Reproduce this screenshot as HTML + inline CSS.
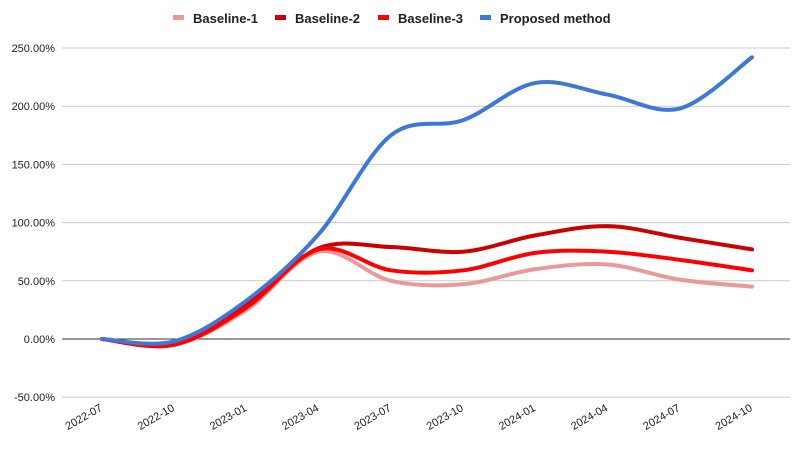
<!DOCTYPE html>
<html><head><meta charset="utf-8"><style>
body{margin:0;background:#fff;font-family:"Liberation Sans",Arial,sans-serif}
svg{display:block}
</style></head><body>
<svg id="chart" width="795" height="456" xmlns="http://www.w3.org/2000/svg"></svg>
<script>
const categories=["2022-07","2022-10","2023-01","2023-04","2023-07","2023-10","2024-01","2024-04","2024-07","2024-10"];
const seriesNames=["Baseline-1","Baseline-2","Baseline-3","Proposed method"];
const baseline1=[0,-5,25,75,50,47,60,64,51,45];
const baseline2=[0,-4,30,78,79,75,89,97,87,77];
const baseline3=[0,-5,27,77,59,59,74,75,68,59];
const proposed=[0,-2,33,90,175,188,220,210,198,242];
const yTicks=[-50,0,50,100,150,200,250];
const colors=["#ea9999","#cc0000","#ff0000","#3c78d8"];
const NS="http://www.w3.org/2000/svg";
const svg=document.getElementById('chart');
const x=i=>102+i*(752-102)/9;
const y=v=>339-v*(291/250);
function mk(t,a,p){const e=document.createElementNS(NS,t);for(const k in a)e.setAttribute(k,a[k]);(p||svg).appendChild(e);return e;}
yTicks.forEach(t=>{
  const g=mk('line',{x1:62,x2:790,y1:y(t),y2:y(t),stroke:t===0?'#333':'#ccc','stroke-width':1});
  
  
  const l=mk('text',{x:55,y:y(t)+4,'text-anchor':'end','font-size':11,fill:'#222'});
  l.textContent=t.toFixed(2)+'%';
  
  
});
categories.forEach((c,i)=>{
  const l=mk('text',{x:x(i)+1,y:410,'text-anchor':'end','font-size':11,fill:'#222',transform:`rotate(-30 ${x(i)+1} 410)`});
  l.textContent=c;
  
  
});
function path(vals){
  const p=vals.map((v,i)=>[x(i),y(v)]);
  let d=`M${p[0][0]},${p[0][1]}`;
  for(let i=0;i<p.length-1;i++){
    const p0=p[Math.max(i-1,0)],p1=p[i],p2=p[i+1],p3=p[Math.min(i+2,p.length-1)];
    const c1=[p1[0]+(p2[0]-p0[0])/6,p1[1]+(p2[1]-p0[1])/6];
    const c2=[p2[0]-(p3[0]-p1[0])/6,p2[1]-(p3[1]-p1[1])/6];
    d+=`C${c1[0]},${c1[1]} ${c2[0]},${c2[1]} ${p2[0]},${p2[1]}`;
  }
  return d;
}
[baseline1,baseline2,baseline3,proposed].forEach((s,k)=>{
  const e=mk('path',{d:path(s),fill:'none',stroke:colors[k],'stroke-width':4,'stroke-linejoin':'round','stroke-linecap':'round'});
  
  
});
const lx=[173,275,378,480];
seriesNames.forEach((n,k)=>{
  const g=mk('g',{});
  
  
  mk('rect',{x:lx[k],y:15,width:11,height:5,fill:colors[k]},g);
  const t=mk('text',{x:lx[k]+20,y:23,'font-size':13,'font-weight':'bold',fill:'#222'},g);
  t.textContent=n;
});
</script>
</body></html>
